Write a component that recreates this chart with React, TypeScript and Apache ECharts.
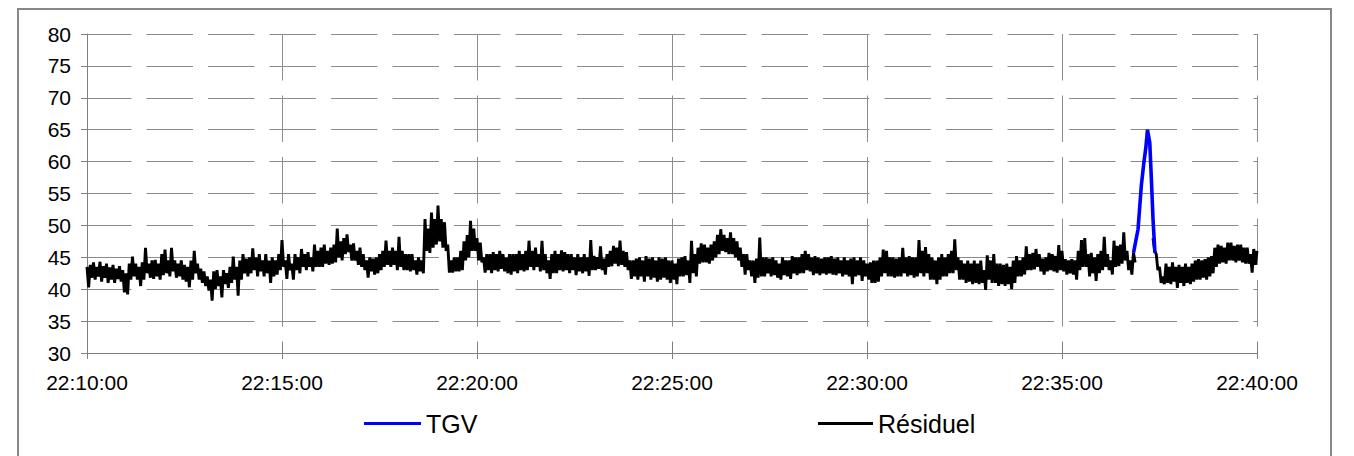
import React, { useEffect, useRef } from "react";
import * as echarts from "echarts";

// ---- data -------------------------------------------------------------
// The residual noise is read as a high and a low value for every 5 s slot
// (high at the slot start, low 2.5 s later), from 22:10:00.
const SLOT_S = 5;
const xTickLabels = ["22:10:00", "22:15:00", "22:20:00", "22:25:00", "22:30:00", "22:35:00", "22:40:00"];
const yTickMin = 30;
const yTickMax = 80;
const yTickStep = 5;

// 22:10:00 – 22:14:55
const high2210 = [
  43.5, 43.8, 44.2, 43.5, 44.3, 43.6, 44.0, 43.4, 43.8, 43.2, 43.6, 43.0,
  42.5, 44.0, 45.1, 44.0, 43.5, 44.2, 46.5, 44.0, 44.5, 44.6, 44.0, 45.5,
  46.2, 44.5, 46.5, 44.5, 44.0, 44.5, 43.8, 43.5, 44.5, 46.0, 44.0, 43.2,
  42.8, 42.0, 41.5, 42.8, 43.0, 42.0, 43.0, 42.5, 43.5, 45.1, 43.5, 44.5,
  45.5, 44.8, 45.0, 46.4, 45.0, 45.5, 44.5, 45.5, 44.5, 45.0, 44.5, 45.5,
];
const low2210 = [
  40.3, 41.8, 41.5, 42.0, 41.2, 41.8, 41.0, 41.5, 41.0, 41.6, 41.2, 39.5,
  39.2, 41.5, 42.0, 41.5, 40.5, 41.5, 42.5, 41.8, 41.6, 42.0, 41.5, 42.2,
  42.5, 42.0, 42.8, 41.8, 42.0, 41.5, 41.2, 40.3, 41.5, 42.5, 41.5, 41.0,
  40.5, 39.8, 38.2, 40.0, 40.5, 38.7, 40.8, 40.2, 41.0, 41.5, 39.0, 41.5,
  42.5, 42.0, 42.5, 43.0, 42.0, 42.8, 42.0, 42.5, 41.0, 42.0, 42.3, 43.0,
];
// 22:15:00 – 22:19:55
const high2215 = [
  47.7, 44.5, 45.5, 44.0, 45.5, 45.0, 46.3, 45.5, 45.8, 45.0, 47.0, 46.0,
  46.5, 47.0, 46.0, 46.5, 47.0, 49.5, 47.5, 48.0, 48.6, 47.0, 47.2, 46.0,
  46.5, 45.5, 44.5, 45.0, 44.8, 45.0, 45.5, 46.0, 47.6, 46.0, 46.5, 46.0,
  48.2, 46.0, 45.5, 45.5, 45.5, 44.5, 45.0, 44.5, 51.0, 49.5, 52.0, 51.0,
  53.1, 51.0, 50.5, 47.0, 44.5, 45.0, 45.0, 46.0, 47.5, 48.5, 50.7, 49.5,
];
const low2215 = [
  43.5, 41.6, 43.0, 41.5, 43.0, 42.5, 43.5, 43.0, 43.5, 42.8, 43.5, 43.5,
  43.5, 44.0, 43.8, 44.0, 44.2, 45.0, 44.5, 45.5, 45.8, 44.5, 44.5, 43.8,
  43.5, 43.0, 41.8, 42.8, 42.3, 42.5, 43.0, 43.5, 43.8, 43.5, 43.8, 43.0,
  43.5, 43.0, 43.0, 42.8, 43.0, 42.3, 42.8, 42.5, 46.0, 45.7, 46.5, 47.0,
  47.5, 46.5, 46.0, 42.6, 42.6, 42.8, 42.8, 43.0, 44.5, 45.0, 46.0, 46.0,
];
// 22:20:00 – 22:24:55
const high2220 = [
  48.0, 47.3, 45.0, 45.5, 45.5, 45.8, 45.5, 46.0, 45.5, 45.0, 45.5, 45.5,
  45.5, 46.0, 45.5, 46.0, 47.6, 46.0, 46.5, 45.5, 47.6, 45.5, 44.5, 45.5,
  46.0, 45.5, 46.1, 45.8, 45.5, 45.5, 45.0, 45.5, 45.0, 45.5, 45.0, 47.7,
  45.2, 45.0, 46.7, 44.8, 45.5, 46.0, 46.8, 46.5, 47.6, 46.0, 45.8, 44.5,
  44.5, 44.8, 45.0, 44.5, 45.2, 44.8, 45.0, 44.5, 45.0, 44.8, 45.0, 44.5,
];
const low2220 = [
  44.5, 44.2, 42.6, 43.0, 42.5, 43.0, 42.8, 43.2, 42.8, 42.5, 42.3, 42.8,
  42.5, 43.0, 42.8, 43.0, 43.5, 43.0, 43.5, 42.8, 43.0, 42.5, 41.6, 42.5,
  42.5, 43.0, 42.8, 43.0, 42.5, 43.0, 42.2, 42.8, 42.5, 42.8, 42.1, 43.0,
  43.0, 43.2, 43.0, 42.3, 43.5, 43.6, 44.0, 43.6, 43.8, 43.5, 43.0, 41.6,
  42.0, 41.5, 42.0, 41.2, 42.0, 41.5, 41.8, 41.2, 41.5, 41.8, 41.5, 41.0,
];
// 22:25:00 – 22:29:55
const high2225 = [
  44.5, 44.0, 44.8, 45.0, 45.2, 44.5, 47.6, 45.5, 46.5, 47.2, 47.0, 46.5,
  47.0, 47.5, 48.5, 49.4, 48.5, 48.0, 48.9, 48.0, 47.5, 46.5, 45.5, 45.5,
  44.5, 44.5, 44.8, 48.1, 45.0, 45.0, 44.8, 45.0, 44.5, 44.0, 45.0, 44.5,
  44.5, 45.2, 45.0, 45.0, 45.5, 46.0, 45.5, 45.0, 45.2, 45.0, 44.8, 45.0,
  45.0, 45.2, 44.8, 45.0, 44.5, 45.0, 44.5, 44.8, 45.0, 44.5, 45.0, 44.5,
];
const low2225 = [
  41.5, 40.8, 42.0, 42.0, 42.2, 41.0, 42.5, 42.0, 44.0, 44.2, 44.2, 44.0,
  44.5, 45.0, 45.5, 46.0, 45.8, 45.5, 45.5, 45.0, 44.5, 43.5, 42.3, 43.0,
  42.0, 41.0, 41.8, 42.0, 42.0, 42.5, 42.0, 42.2, 41.8, 41.5, 42.2, 42.0,
  41.6, 42.5, 42.2, 42.5, 42.5, 43.0, 42.8, 42.2, 42.5, 42.2, 42.5, 42.3,
  42.5, 42.3, 42.2, 42.5, 42.0, 42.3, 42.0, 40.8, 42.0, 42.2, 41.3, 42.0,
];
// 22:30:00 – 22:34:55
const high2230 = [
  44.0, 44.2, 44.5, 44.5, 45.0, 46.2, 46.0, 45.0, 45.0, 44.8, 45.0, 46.5,
  45.0, 45.2, 45.0, 45.0, 47.7, 46.0, 46.6, 45.5, 45.0, 44.5, 45.0, 45.5,
  45.0, 45.5, 46.0, 47.8, 45.0, 44.5, 44.0, 44.5, 44.0, 44.5, 44.0, 44.5,
  43.0, 45.3, 44.5, 45.5, 44.0, 44.0, 43.8, 44.0, 43.5, 44.5, 45.2, 44.5,
  45.0, 46.7, 45.5, 45.7, 46.3, 45.5, 44.8, 45.0, 45.7, 45.5, 45.2, 46.9,
];
const low2230 = [
  41.5, 41.0, 41.0, 41.2, 42.0, 42.5, 42.0, 42.0, 41.8, 42.0, 42.0, 42.5,
  42.0, 42.2, 41.8, 42.0, 42.5, 42.0, 42.5, 41.5, 41.5, 40.8, 41.5, 42.0,
  42.0, 42.5, 42.5, 43.0, 41.5, 41.5, 41.0, 41.2, 40.8, 41.0, 40.8, 41.0,
  39.9, 41.5, 41.0, 41.0, 40.5, 40.8, 40.5, 40.8, 40.0, 41.0, 42.0, 42.0,
  42.3, 43.0, 43.0, 43.1, 43.5, 42.8, 42.3, 42.8, 43.0, 42.8, 42.6, 43.0,
];
// 22:35:00 – 22:40:00 (null while the TGV passes)
const high2235 = [
  46.0, 44.7, 44.5, 44.7, 44.5, 46.0, 47.7, 48.0, 45.5, 45.7, 45.0, 45.5,
  46.0, 48.2, 45.5, 44.5, 47.6, 46.8, 47.0, 48.9, 46.0, 44.5, 45.7, null,
  null, null, null, null, 48.0, 45.5, 43.5, 42.0, 44.0, 43.5, 44.2, 43.5,
  43.8, 43.5, 44.0, 43.5, 44.0, 44.5, 44.7, 44.5, 44.7, 45.0, 45.2, 46.5,
  47.0, 46.8, 46.5, 47.3, 47.3, 46.8, 47.0, 47.0, 46.5, 46.5, 45.5, 46.3,
  46.0,
];
const low2235 = [
  42.8, 42.3, 42.5, 42.3, 41.5, 43.0, 43.5, 43.5, 42.0, 42.5, 41.3, 42.5,
  43.0, 43.5, 43.0, 42.3, 43.5, 43.6, 44.0, 44.5, 43.0, 42.3, 44.2, null,
  null, null, null, null, 46.0, 43.0, 41.0, 40.8, 41.0, 40.8, 41.2, 40.2,
  41.0, 40.5, 41.0, 40.8, 41.2, 41.5, 41.5, 41.8, 41.5, 42.0, 42.5, 43.5,
  44.0, 44.2, 44.0, 44.5, 44.5, 44.2, 44.5, 44.2, 44.0, 44.0, 42.6, 43.8,
  43.5,
];

// TGV passage (seconds after 22:10:00, value)
const tgvSeconds = [1610, 1617, 1622, 1626, 1629, 1631.5, 1635, 1637.5, 1640, 1643];
const tgvValues = [45.7, 49.4, 56.2, 59.9, 62.2, 65.0, 63.0, 57.3, 51.0, 45.7];

// ---- chart ------------------------------------------------------------
const FONT = "'Liberation Sans', Arial, Helvetica, sans-serif";
const AXIS_GREY = "#808080";
const GRID_GREY = "#8c8c8c";
const xMax = (xTickLabels.length - 1) * 300;

const highs = [...high2210, ...high2215, ...high2220, ...high2225, ...high2230, ...high2235];
const lows = [...low2210, ...low2215, ...low2220, ...low2225, ...low2230, ...low2235];

const residuelData: any[] = [];
highs.forEach((h, i) => {
  const t = i * SLOT_S;
  residuelData.push([t, h === null ? "-" : h]);
  const tl = t + SLOT_S / 2;
  if (tl <= xMax) residuelData.push([tl, lows[i] === null ? "-" : lows[i]]);
});
const tgvData = tgvSeconds.map((s, i) => [s, tgvValues[i]]);

function buildOption() {
  return {
    animation: false,
    backgroundColor: "#ffffff",
    textStyle: { fontFamily: FONT },
    grid: {
      left: 87,
      top: 34,
      width: 1170,
      height: 319,
      containLabel: false,
      outerBoundsMode: "none",
    },
    graphic: [
      {
        type: "rect",
        silent: true,
        shape: { x: 18, y: 9, width: 1313, height: 470 },
        style: { fill: "none", stroke: "#888888", lineWidth: 2 },
      },
    ],
    legend: [
      {
        data: ["TGV"],
        left: 364,
        top: 411,
        padding: 0,
        icon: "rect",
        itemWidth: 57,
        itemHeight: 3,
        selectedMode: false,
        textStyle: { fontSize: 25, color: "#000", fontFamily: FONT },
      },
      {
        data: ["Résiduel"],
        left: 818,
        top: 411,
        padding: 0,
        icon: "rect",
        itemWidth: 55,
        itemHeight: 3,
        selectedMode: false,
        textStyle: { fontSize: 25, color: "#000", fontFamily: FONT },
      },
    ],
    xAxis: [
      {
        type: "value",
        min: 0,
        max: xMax,
        interval: 300,
        position: "bottom",
        axisLine: { show: true, onZero: false, lineStyle: { color: AXIS_GREY, width: 1 } },
        axisTick: { show: true, inside: true, length: 11, lineStyle: { color: AXIS_GREY, width: 1 } },
        axisLabel: {
          show: true,
          margin: 19,
          fontSize: 21,
          color: "#000",
          fontFamily: FONT,
          showMinLabel: true,
          showMaxLabel: true,
          formatter: (v: number) => xTickLabels[Math.round(v / 300)] ?? "",
        },
        splitLine: {
          show: true,
          lineStyle: { color: GRID_GREY, width: 1, type: [46.5, 15], dashOffset: 0 },
        },
      },
      {
        type: "value",
        min: 0,
        max: xMax,
        interval: 300,
        position: "bottom",
        axisLine: { show: false, onZero: false },
        axisTick: { show: true, inside: false, length: 6, lineStyle: { color: AXIS_GREY, width: 1 } },
        axisLabel: { show: false },
        splitLine: { show: false },
      },
    ],
    yAxis: {
      type: "value",
      min: yTickMin,
      max: yTickMax,
      interval: yTickStep,
      axisLine: { show: true, lineStyle: { color: AXIS_GREY, width: 1 } },
      axisTick: { show: true, inside: false, length: 6, lineStyle: { color: AXIS_GREY, width: 1 } },
      axisLabel: { margin: 16, fontSize: 21, color: "#000", fontFamily: FONT },
      splitLine: {
        show: true,
        lineStyle: { color: GRID_GREY, width: 1, type: [46.5, 15], dashOffset: 1.5 },
      },
    },
    series: [
      {
        name: "Résiduel",
        type: "line",
        xAxisIndex: 0,
        data: residuelData,
        symbol: "none",
        showSymbol: false,
        connectNulls: false,
        lineStyle: { color: "#000000", width: 2.9 },
        itemStyle: { color: "#000000" },
        emphasis: { disabled: true },
        z: 2,
      },
      {
        name: "TGV",
        type: "line",
        xAxisIndex: 0,
        data: tgvData,
        symbol: "none",
        showSymbol: false,
        lineStyle: { color: "#0000ff", width: 3.6 },
        itemStyle: { color: "#0000ff" },
        emphasis: { disabled: true },
        z: 3,
      },
    ],
  };
}

export default function App() {
  const ref = useRef<HTMLDivElement>(null);
  useEffect(() => {
    if (!ref.current) return;
    const chart = echarts.init(ref.current, null, { renderer: "svg" });
    chart.setOption(buildOption() as any);
    return () => {
      chart.dispose();
    };
  }, []);
  return (
    <div
      ref={ref}
      style={{ position: "fixed", left: 0, top: 0, width: 1354, height: 456, background: "#ffffff" }}
    />
  );
}
